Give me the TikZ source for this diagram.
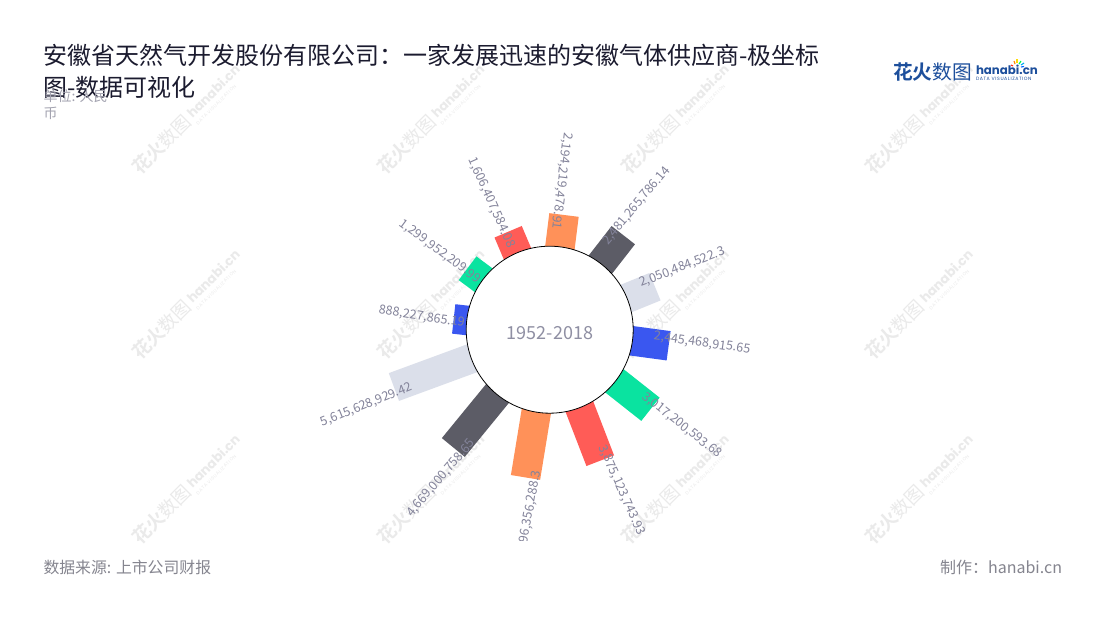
\documentclass[tikz,border=0pt]{standalone}
\usepackage{fontspec}
\usetikzlibrary{calc}
\setmainfont{Noto Sans CJK SC}
\newfontfamily\cjkbold[BoldFont={Noto Sans CJK SC Bold}]{Noto Sans CJK SC}
\newfontfamily\wmlat{Poppins}
\newfontfamily\wmspaced[LetterSpace=12]{Poppins}
\definecolor{ctitle}{HTML}{1B1B2F}
\definecolor{cgrey}{HTML}{8F8FA3}
\definecolor{cunit}{HTML}{A3A3B0}
\definecolor{cfoot}{HTML}{85858F}
\definecolor{clabel}{HTML}{83839A}
\definecolor{cwm}{HTML}{EAEAEA}
\definecolor{corange}{HTML}{FF9159}
\definecolor{cdark}{HTML}{5C5C66}
\definecolor{clight}{HTML}{DBDFEA}
\definecolor{cblue}{HTML}{3A57F0}
\definecolor{cgreen}{HTML}{0AE3A0}
\definecolor{cred}{HTML}{FF5C57}
\definecolor{clogo}{HTML}{1D4F9C}
\newcommand{\px}[1]{\fontsize{#1}{#1}\selectfont}
\tikzset{
  x=1pt,y=-1pt,
  plain/.style={inner sep=0pt,outer sep=0pt},
  titlefont/.style={plain,anchor=west,text=ctitle,font=\px{24}},
  smallgrey/.style={plain,anchor=west,text=cunit,font=\px{14}},
  foot/.style={plain,text=cfoot,font=\px{16}},
  vlabel/.style={plain,text=clabel,font=\px{12.5}},
  hub/.style={plain,circle,minimum size=167pt,draw=black,line width=.8pt,fill=white},
  spark/.style={line width=1.1pt},
}
\newcommand{\barpiece}[3]{%
  \fill[#3,shift={(hubc)},rotate=-#1] (-14.8,-70) rectangle (14.8,-#2);}
\newcommand{\wmark}[2]{%
  \node[plain,rotate=45,text=cwm,font=\cjkbold\px{18.5}\bfseries,anchor=east] (wm#1a) at (#2) {花火\mdseries 数图};
  \node[plain,rotate=45,text=cwm,font=\wmlat\px{13}\bfseries,anchor=west] (wm#1b) at ($(#2)+(1,-3)$) {hanabi.cn};
  \node[plain,rotate=45,text=cwm,font=\wmspaced\px{4.6},anchor=west] (wm#1c) at ($(#2)+(9,6)$) {DATA VISUALIZATION};}
\begin{document}
\begin{tikzpicture}
\useasboundingbox (0,0) rectangle (1100,620);
\fill[white] (0,0) rectangle (1100,620);
\coordinate (hubc) at (549.7,329.7);
% watermarks
\wmark{a}{188,118}
\wmark{b}{432.5,118}
\wmark{c}{677,118}
\wmark{d}{921,118}
\wmark{e}{188,303}
\wmark{f}{432.5,303}
\wmark{g}{677,303}
\wmark{h}{921,303}
\wmark{i}{188,488}
\wmark{j}{432.5,488}
\wmark{k}{677,488}
\wmark{l}{921,488}
% bars
\barpiece{7.1}{115.6}{corange}
\barpiece{37.9}{119.8}{cdark}
\barpiece{67.8}{113.7}{clight}
\barpiece{97.7}{120}{cblue}
\barpiece{128.3}{128.4}{cgreen}
\barpiece{158.9}{140.4}{cred}
\barpiece{189.3}{149.7}{corange}
\barpiece{219.3}{152.2}{cdark}
\barpiece{249.8}{166}{clight}
\barpiece{276.4}{96.6}{cblue}
\barpiece{306.8}{102.6}{cgreen}
\barpiece{337}{106.4}{cred}
\node[hub] (hub) at (hubc) {};
\node[plain,text=cgrey,font=\px{18}] (years) at (550,333) {1952-2018};
% value labels
\begin{scope}
\clip (300,120) rectangle (800,540);
\node[vlabel,rotate=-97] (v1) at (561.5,181) {2,194,219,478.91};
\node[vlabel,rotate=50] (v2) at (636.7,205.8) {2,481,265,786.14};
\node[vlabel,rotate=21] (v3) at (682.3,267.5) {2,050,484,522.3};
\node[vlabel,rotate=-8] (v4) at (702,343.3) {2,445,468,915.65};
\node[vlabel,rotate=-38.3] (v5) at (682,425.5) {3,017,200,593.68};
\node[vlabel,rotate=-66] (v6) at (621.7,490.4) {3,875,123,743.93};
\node[vlabel,rotate=80,anchor=east] (v7) at (537,471) {4,196,356,288.3};
\node[vlabel,rotate=49.5] (v8) at (441,478.3) {4,669,000,758.65};
\node[vlabel,rotate=22] (v9) at (366.7,405) {5,615,628,929.42};
\node[vlabel,rotate=-8.5] (v10) at (421.7,317) {888,227,865.19};
\node[vlabel,rotate=-36.5] (v11) at (440,251.7) {1,299,952,209.99};
\node[vlabel,rotate=-66] (v12) at (491.2,202.7) {1,606,407,584.08};
\end{scope}
% headings
\node[titlefont] (t1) at (43.3,55) {安徽省天然气开发股份有限公司：一家发展迅速的安徽气体供应商-极坐标};
\node[titlefont] (t2) at (43.3,87) {图-数据可视化};
\node[smallgrey] (u1) at (43.5,96) {单位: 人民};
\node[smallgrey] (u2) at (43.5,113) {币};
\node[foot,anchor=west,font=\px{15.85}] (src) at (43.5,567) {数据来源: 上市公司财报};
\node[foot,anchor=east] (by) at (1062,567) {制作：hanabi.cn};
% logo
\node[plain,anchor=west,text=clogo,font=\cjkbold\px{19.7}\bfseries] (lg1) at (893,72) {花火\mdseries 数图};
\node[plain,anchor=west,text=clogo,font=\wmlat\px{11.8}\bfseries] (lg2) at (976,70) {hanabi.cn};
\node[plain,anchor=west,text=clogo,font=\wmspaced\px{4.7}] (lg3) at (976,79) {DATA VISUALIZATION};
\coordinate (sp) at (1017,67);
\draw[spark,red!80!orange] (sp) ++(-4,-1) -- ++(-2,-1);
\draw[spark,orange] (sp) ++(-2,-3) -- ++(-1,-3);
\draw[spark,yellow!80!orange] (sp) ++(0,-4) -- ++(0,-4);
\draw[spark,green!70!cyan] (sp) ++(2,-3) -- ++(2,-3);
\draw[spark,cyan] (sp) ++(4,-2) -- ++(3,-2);
\draw[spark,blue!60!cyan] (sp) ++(4,0) -- ++(3,-.5);
\end{tikzpicture}
\end{document}
